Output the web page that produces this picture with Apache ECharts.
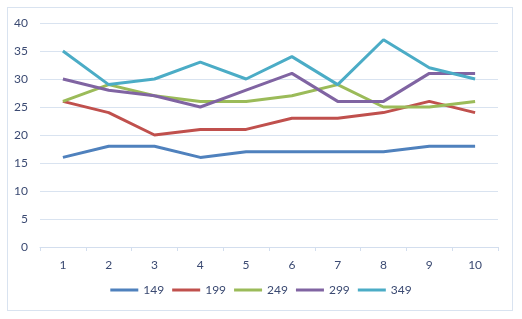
<!DOCTYPE html>
<html>
<head>
<meta charset="utf-8">
<script src="https://cdn.jsdelivr.net/npm/echarts@6/dist/echarts.min.js"></script>
<style>
  html, body { margin: 0; padding: 0; background: #fff; }
  #frame { position: absolute; left: 7px; top: 7px; width: 506px; height: 304px; border: 1px solid #d9e3f0; box-sizing: border-box; }
  #main { position: absolute; left: 0; top: 0; width: 522px; height: 319px; }
</style>
</head>
<body>
<div id="frame"></div>
<div id="main"></div>
<script>
// x轴分类
var categories = ['1', '2', '3', '4', '5', '6', '7', '8', '9', '10'];
// 各条线的数据
var s149 = [16, 18, 18, 16, 17, 17, 17, 17, 18, 18];
var s199 = [26, 24, 20, 21, 21, 23, 23, 24, 26, 24];
var s249 = [26, 29, 27, 26, 26, 27, 29, 25, 25, 26];
var s299 = [30, 28, 27, 25, 28, 31, 26, 26, 31, 31];
var s349 = [35, 29, 30, 33, 30, 34, 29, 37, 32, 30];
var names = ['149', '199', '249', '299', '349'];
var colors = ['#4f81bd', '#c0504d', '#9bbb59', '#8064a2', '#4bacc6'];

var textColor = '#3b4a72';
var lineData = [s149, s199, s249, s299, s349];
var series = [];
for (var i = 0; i < names.length; i++) {
  series.push({
    name: names[i],
    type: 'line',
    data: lineData[i],
    symbol: 'none',
    lineStyle: { width: 3, color: colors[i] },
    itemStyle: { color: colors[i] }
  });
}

var myChart = echarts.init(document.getElementById('main'));
var option = {
  animation: false,
  color: colors,
  grid: { left: 40, right: 24, top: 23, bottom: 72 },
  legend: {
    bottom: 18,
    left: 'center',
    itemWidth: 28,
    itemHeight: 3,
    itemGap: 8,
    icon: 'rect',
    textStyle: { color: textColor, fontSize: 12, fontFamily: 'Lato' }
  },
  xAxis: {
    type: 'category',
    data: categories,
    boundaryGap: true,
    axisLine: { lineStyle: { color: '#d3deee', width: 1 } },
    axisTick: { show: true, length: 4, lineStyle: { color: '#d3deee' } },
    axisLabel: { color: textColor, fontSize: 12, fontFamily: 'Lato', margin: 12 }
  },
  yAxis: {
    type: 'value',
    min: 0,
    max: 40,
    interval: 5,
    axisLine: { show: false },
    axisTick: { show: false },
    axisLabel: { color: textColor, fontSize: 12, fontFamily: 'Lato', margin: 12 },
    splitLine: { lineStyle: { color: '#d9e3f0', width: 1 } }
  },
  series: series
};
option && myChart.setOption(option);
</script>
</body>
</html>
